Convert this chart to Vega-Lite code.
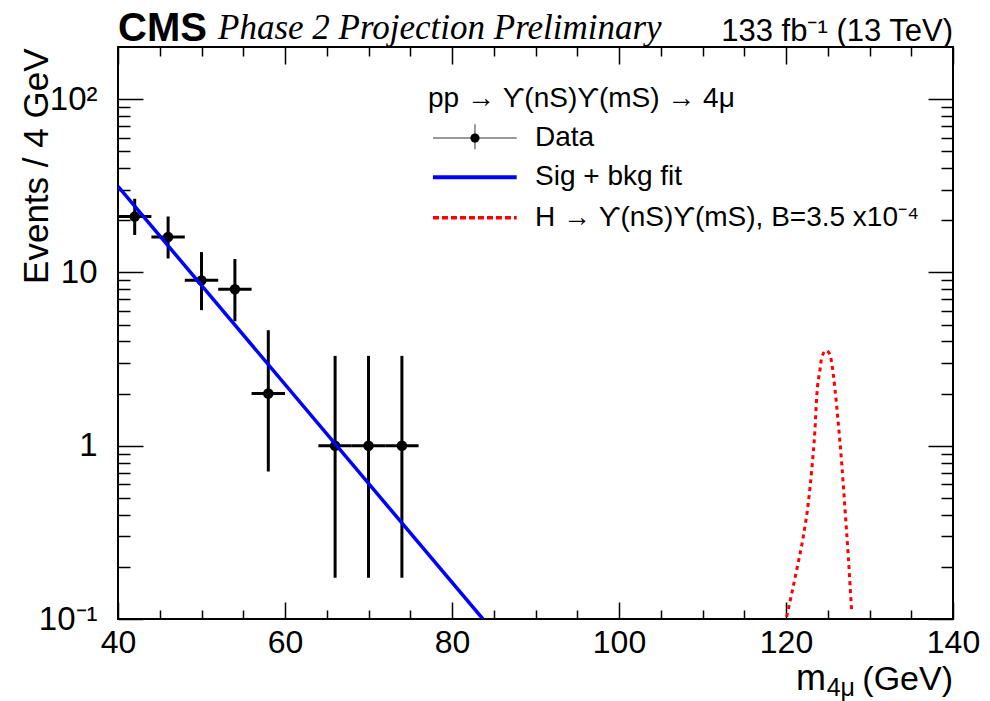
{
  "$schema": "https://vega.github.io/schema/vega-lite/v6.json",
  "width": 835,
  "height": 572,
  "autosize": {"type": "none"},
  "padding": {"left": 118, "top": 47, "right": 37, "bottom": 82},
  "background": "white",
  "config": {
    "view": {"stroke": "black", "strokeWidth": 2},
    "font": "Liberation Sans",
    "axis": {"grid": false, "domain": false, "labelFont": "Liberation Sans", "titleFont": "Liberation Sans", "tickColor": "black", "labelColor": "black", "titleColor": "black", "labelFlush": false, "labelOverlap": false, "labelBound": false, "titleFontWeight": "normal", "tickWidth": 1.5}
  },
  "datasets": {
    "obs": [
      {"m": 42, "n": 21, "lo": 16.45, "hi": 26.62, "xlo": 40, "xhi": 44},
      {"m": 46, "n": 16, "lo": 12.04, "hi": 21.03, "xlo": 44, "xhi": 48},
      {"m": 50, "n": 9, "lo": 6.06, "hi": 13.11, "xlo": 48, "xhi": 52},
      {"m": 54, "n": 8, "lo": 5.23, "hi": 11.95, "xlo": 52, "xhi": 56},
      {"m": 58, "n": 2, "lo": 0.71, "hi": 4.64, "xlo": 56, "xhi": 60},
      {"m": 66, "n": 1, "lo": 0.173, "hi": 3.3, "xlo": 64, "xhi": 68},
      {"m": 70, "n": 1, "lo": 0.173, "hi": 3.3, "xlo": 68, "xhi": 72},
      {"m": 74, "n": 1, "lo": 0.173, "hi": 3.3, "xlo": 72, "xhi": 76}
    ],
    "fit": [
      {"m": 40, "v": 31.4},
      {"m": 83.7, "v": 0.1}
    ],
    "sig": [
      {"m": 120.08, "v": 0.103},
      {"m": 121.28, "v": 0.192},
      {"m": 122.07, "v": 0.299},
      {"m": 122.67, "v": 0.467},
      {"m": 123.08, "v": 0.726},
      {"m": 123.47, "v": 1.24},
      {"m": 123.68, "v": 1.93},
      {"m": 124.07, "v": 2.75},
      {"m": 124.27, "v": 3.21},
      {"m": 124.79, "v": 3.54},
      {"m": 125.27, "v": 3.36},
      {"m": 125.47, "v": 3.01},
      {"m": 125.87, "v": 2.11},
      {"m": 126.26, "v": 1.35},
      {"m": 126.67, "v": 0.794},
      {"m": 127.07, "v": 0.427},
      {"m": 127.46, "v": 0.229},
      {"m": 127.87, "v": 0.108}
    ]
  },
  "resolve": {"axis": {"x": "independent", "y": "independent"}},
  "layer": [
    {
      "data": {"name": "obs"},
      "mark": {"type": "rule", "color": "black", "strokeWidth": 3},
      "encoding": {
        "x": {"field": "m", "type": "quantitative", "scale": {"domain": [40, 140], "nice": false, "zero": false},
          "axis": {"orient": "bottom", "values": [40, 60, 80, 100, 120, 140], "tickSize": -17, "labelFontSize": 32, "labelPadding": 25, "title": null}},
        "y": {"field": "lo", "type": "quantitative", "scale": {"type": "log", "domain": [0.1, 200], "nice": false},
          "axis": {"orient": "left", "values": [0.1, 1, 10, 100], "tickSize": -25, "labelFontSize": 33, "labelPadding": 46,
            "labelExpr": "datum.value < 0.5 ? '10⁻¹' : datum.value > 50 ? '10²' : datum.value < 5 ? '1' : '10'",
            "title": "Events / 4 GeV", "titleFontSize": 35, "titleAngle": -90, "titleX": -71, "titleY": 1, "titleAlign": "right", "titleBaseline": "alphabetic", "titleAnchor": "end"}},
        "y2": {"field": "hi"}
      }
    },
    {
      "data": {"name": "obs"},
      "mark": {"type": "rule", "color": "black", "strokeWidth": 3},
      "encoding": {
        "x": {"field": "xlo", "type": "quantitative", "scale": {"domain": [40, 140], "nice": false, "zero": false},
          "axis": {"orient": "bottom", "values": [45, 50, 55, 65, 70, 75, 85, 90, 95, 105, 110, 115, 125, 130, 135], "tickSize": -9, "labels": false, "title": null}},
        "x2": {"field": "xhi"},
        "y": {"field": "n", "type": "quantitative", "scale": {"type": "log", "domain": [0.1, 200], "nice": false},
          "axis": {"orient": "left", "values": [0.2, 0.3, 0.4, 0.5, 0.6, 0.7, 0.8, 0.9, 2, 3, 4, 5, 6, 7, 8, 9, 20, 30, 40, 50, 60, 70, 80, 90], "tickSize": -12, "labels": false, "title": null}}
      }
    },
    {
      "data": {"name": "obs"},
      "mark": {"type": "point", "shape": "circle", "filled": true, "color": "black", "size": 110, "opacity": 1},
      "encoding": {
        "x": {"field": "m", "type": "quantitative", "scale": {"domain": [40, 140], "nice": false, "zero": false},
          "axis": {"orient": "top", "values": [40, 60, 80, 100, 120, 140], "tickSize": -17, "labels": false, "title": null}},
        "y": {"field": "n", "type": "quantitative", "scale": {"type": "log", "domain": [0.1, 200], "nice": false},
          "axis": {"orient": "right", "values": [0.1, 1, 10, 100], "tickSize": -25, "labels": false, "title": null}}
      }
    },
    {
      "data": {"name": "fit"},
      "mark": {"type": "line", "color": "#0000ff", "strokeWidth": 3.5, "clip": true},
      "encoding": {
        "x": {"field": "m", "type": "quantitative", "scale": {"domain": [40, 140], "nice": false, "zero": false},
          "axis": {"orient": "top", "values": [45, 50, 55, 65, 70, 75, 85, 90, 95, 105, 110, 115, 125, 130, 135], "tickSize": -9, "labels": false, "title": null}},
        "y": {"field": "v", "type": "quantitative", "scale": {"type": "log", "domain": [0.1, 200], "nice": false},
          "axis": {"orient": "right", "values": [0.2, 0.3, 0.4, 0.5, 0.6, 0.7, 0.8, 0.9, 2, 3, 4, 5, 6, 7, 8, 9, 20, 30, 40, 50, 60, 70, 80, 90], "tickSize": -12, "labels": false, "title": null}}
      }
    },
    {
      "data": {"name": "sig"},
      "mark": {"type": "line", "color": "#ff0000", "strokeWidth": 3, "strokeDash": [4, 4], "interpolate": "monotone", "clip": true},
      "encoding": {
        "x": {"field": "m", "type": "quantitative", "axis": null},
        "y": {"field": "v", "type": "quantitative", "scale": {"type": "log", "domain": [0.1, 200], "nice": false}, "axis": null}
      }
    },
    {
      "data": {"values": [{}]},
      "mark": {"type": "text", "text": "pp → ϒ(nS)ϒ(mS) → 4μ", "fontSize": 28, "align": "left", "baseline": "middle", "color": "black"},
      "encoding": {"x": {"datum": 77.13, "type": "quantitative", "axis": null}, "y": {"datum": 100, "type": "quantitative", "axis": null}}
    },
    {
      "data": {"values": [{}]},
      "mark": {"type": "rule", "color": "#777777", "strokeWidth": 1.5},
      "encoding": {"x": {"datum": 77.72, "type": "quantitative", "axis": null}, "x2": {"datum": 87.75}, "y": {"datum": 59.6, "type": "quantitative", "axis": null}}
    },
    {
      "data": {"values": [{}]},
      "mark": {"type": "rule", "color": "#777777", "strokeWidth": 1.5},
      "encoding": {"x": {"datum": 82.75, "type": "quantitative", "axis": null}, "y": {"datum": 51.4, "type": "quantitative", "axis": null}, "y2": {"datum": 71.6}}
    },
    {
      "data": {"values": [{}]},
      "mark": {"type": "point", "shape": "circle", "filled": true, "color": "black", "size": 85, "opacity": 1},
      "encoding": {"x": {"datum": 82.75, "type": "quantitative", "axis": null}, "y": {"datum": 59.6, "type": "quantitative", "axis": null}}
    },
    {
      "data": {"values": [{}]},
      "mark": {"type": "text", "text": "Data", "fontSize": 28, "align": "left", "baseline": "middle", "color": "black"},
      "encoding": {"x": {"datum": 89.94, "type": "quantitative", "axis": null}, "y": {"datum": 59.6, "type": "quantitative", "axis": null}}
    },
    {
      "data": {"values": [{}]},
      "mark": {"type": "rule", "color": "#0000ff", "strokeWidth": 4},
      "encoding": {"x": {"datum": 77.72, "type": "quantitative", "axis": null}, "x2": {"datum": 87.75}, "y": {"datum": 35.4, "type": "quantitative", "axis": null}}
    },
    {
      "data": {"values": [{}]},
      "mark": {"type": "text", "text": "Sig + bkg fit", "fontSize": 28, "align": "left", "baseline": "middle", "color": "black"},
      "encoding": {"x": {"datum": 89.94, "type": "quantitative", "axis": null}, "y": {"datum": 35.4, "type": "quantitative", "axis": null}}
    },
    {
      "data": {"values": [{}]},
      "mark": {"type": "rule", "color": "#ff0000", "strokeWidth": 3.5, "strokeDash": [6, 3]},
      "encoding": {"x": {"datum": 77.72, "type": "quantitative", "axis": null}, "x2": {"datum": 87.75}, "y": {"datum": 20.7, "type": "quantitative", "axis": null}}
    },
    {
      "data": {"values": [{}]},
      "mark": {"type": "text", "text": "H → ϒ(nS)ϒ(mS), B=3.5 x10⁻⁴", "fontSize": 28, "align": "left", "baseline": "middle", "color": "black"},
      "encoding": {"x": {"datum": 89.94, "type": "quantitative", "axis": null}, "y": {"datum": 20.7, "type": "quantitative", "axis": null}}
    },
    {
      "data": {"values": [{}]},
      "mark": {"type": "text", "text": "CMS", "font": "Liberation Sans", "fontSize": 40, "fontWeight": "bold", "align": "left", "baseline": "alphabetic", "dy": -6, "color": "black"},
      "encoding": {"x": {"datum": 40, "type": "quantitative", "axis": null}, "y": {"datum": 200, "type": "quantitative", "axis": null}}
    },
    {
      "data": {"values": [{}]},
      "mark": {"type": "text", "text": "Phase 2 Projection Preliminary", "font": "Liberation Serif", "fontSize": 35, "fontStyle": "italic", "align": "left", "baseline": "alphabetic", "dy": -8, "color": "black"},
      "encoding": {"x": {"datum": 51.98, "type": "quantitative", "axis": null}, "y": {"datum": 200, "type": "quantitative", "axis": null}}
    },
    {
      "data": {"values": [{}]},
      "mark": {"type": "text", "text": "133 fb⁻¹ (13 TeV)", "fontSize": 31, "align": "right", "baseline": "alphabetic", "dy": -6, "color": "black"},
      "encoding": {"x": {"datum": 140, "type": "quantitative", "axis": null}, "y": {"datum": 200, "type": "quantitative", "axis": null}}
    },
    {
      "data": {"values": [{}]},
      "mark": {"type": "text", "text": "(GeV)", "fontSize": 34, "align": "right", "baseline": "alphabetic", "dy": 71, "color": "black"},
      "encoding": {"x": {"datum": 140, "type": "quantitative", "axis": null}, "y": {"datum": 0.1, "type": "quantitative", "axis": null}}
    },
    {
      "data": {"values": [{}]},
      "mark": {"type": "text", "text": "4μ", "fontSize": 25, "align": "right", "baseline": "alphabetic", "dx": -98, "dy": 77, "color": "black"},
      "encoding": {"x": {"datum": 140, "type": "quantitative", "axis": null}, "y": {"datum": 0.1, "type": "quantitative", "axis": null}}
    },
    {
      "data": {"values": [{}]},
      "mark": {"type": "text", "text": "m", "fontSize": 36, "align": "right", "baseline": "alphabetic", "dx": -127, "dy": 71, "color": "black"},
      "encoding": {"x": {"datum": 140, "type": "quantitative", "axis": null}, "y": {"datum": 0.1, "type": "quantitative", "axis": null}}
    }
  ]
}
